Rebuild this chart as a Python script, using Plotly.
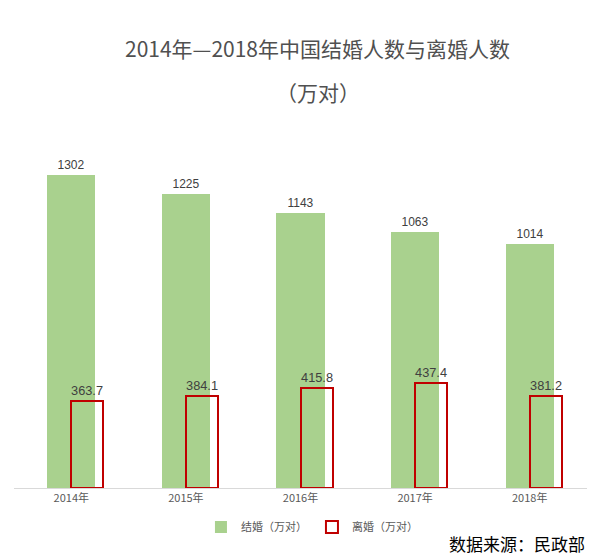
import plotly.graph_objects as go

years = ["2014年", "2015年", "2016年", "2017年", "2018年"]
marriages = [1302, 1225, 1143, 1063, 1014]
divorces = [363.7, 384.1, 415.8, 437.4, 381.2]

fig = go.Figure()
fig.add_trace(go.Bar(
    x=years, y=marriages, name="结婚（万对）",
    width=0.42, offset=-0.21,
    marker=dict(color="#a9d18e", line=dict(width=0)),
    text=[str(v) for v in marriages], textposition="outside",
    textfont=dict(size=12, color="#404040", family="Liberation Sans, Arial"), cliponaxis=False,
))
fig.add_trace(go.Bar(
    x=years, y=divorces, name="离婚（万对）",
    width=0.28, offset=0,
    marker=dict(color="rgba(0,0,0,0)", line=dict(color="#c00000", width=2)),
    text=[f"{v:.1f}" for v in divorces], textposition="outside",
    textfont=dict(size=13, color="#404040", family="Liberation Sans, Arial"), cliponaxis=False,
))

# the page body adds an 8px offset, so pixel targets are shifted by 8
H = 560
top, bottom = 142, 80
fig.update_layout(
    width=600, height=H,
    margin=dict(l=6, r=21, t=top, b=bottom, autoexpand=False),
    paper_bgcolor="white", plot_bgcolor="white",
    barmode="overlay", bargap=0,
    font=dict(family="Noto Sans CJK SC, sans-serif", color="#595959"),
    showlegend=True,
    legend=dict(orientation="h", x=0.52, xanchor="center", yref="container",
                y=1 - 519 / H, yanchor="middle",
                font=dict(size=11, color="#595959")),
    xaxis=dict(showline=True, linecolor="#d9d9d9", linewidth=1, ticks="",
               tickfont=dict(size=11, color="#595959")),
    yaxis=dict(range=[0, 1406], visible=False, showgrid=False),
    annotations=[
        dict(text="2014年—2018年中国结婚人数与离婚人数", x=0.53, y=40, xref="paper", yref="paper",
             showarrow=False, font=dict(size=21, color="#505050")),
        dict(text="（万对）", x=0.53, y=84, xref="paper", yref="paper",
             showarrow=False, font=dict(size=21, color="#505050")),
        dict(text="数据来源：民政部", x=1.0, y=535, xref="paper", yref="paper",
             showarrow=False, xanchor="right", font=dict(size=17, color="#000000")),
    ],
)
# convert pixel y positions to paper coordinates
h_plot = H - top - bottom
for a in fig.layout.annotations:
    a.y = (H - bottom - a.y) / h_plot
    a.yanchor = "middle"

fig.write_html("out.html")
